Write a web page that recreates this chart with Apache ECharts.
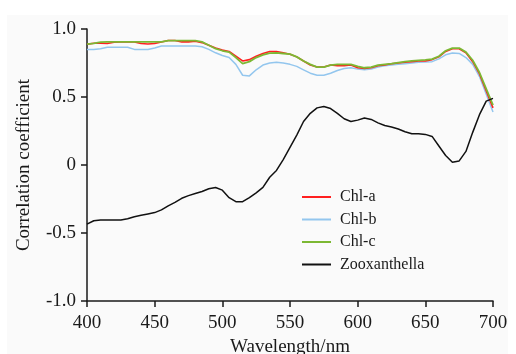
<!DOCTYPE html>
<html>
<head>
<meta charset="utf-8">
<script src="https://cdn.jsdelivr.net/npm/echarts@6/dist/echarts.min.js"></script>
<style>
  html, body { margin: 0; padding: 0; background: #ffffff; }
  #frame { position: absolute; left: 7px; top: 15px; width: 501px; height: 339px; background: #fafafa; }
  #chart { position: absolute; left: 0; top: 0; width: 516px; height: 354px; }
</style>
</head>
<body>
<div id="frame"></div>
<div id="chart"></div>
<script>
// wavelength grid, 5 nm steps from 400 to 700
const wavelengths = [
  400, 405, 410, 415, 420, 425, 430, 435, 440, 445,
  450, 455, 460, 465, 470, 475, 480, 485, 490, 495,
  500, 505, 510, 515, 520, 525, 530, 535, 540, 545,
  550, 555, 560, 565, 570, 575, 580, 585, 590, 595,
  600, 605, 610, 615, 620, 625, 630, 635, 640, 645,
  650, 655, 660, 665, 670, 675, 680, 685, 690, 695,
  700
];

const chlA = [
  0.888, 0.895, 0.895, 0.893, 0.903, 0.905, 0.905, 0.905, 0.893, 0.890,
  0.893, 0.905, 0.915, 0.915, 0.905, 0.905, 0.910, 0.900, 0.880, 0.860,
  0.845, 0.835, 0.800, 0.765, 0.775, 0.800, 0.820, 0.835, 0.835, 0.825,
  0.815, 0.795, 0.765, 0.735, 0.720, 0.720, 0.735, 0.730, 0.730, 0.735,
  0.715, 0.710, 0.715, 0.730, 0.735, 0.745, 0.750, 0.755, 0.760, 0.765,
  0.765, 0.775, 0.795, 0.835, 0.855, 0.855, 0.825, 0.760, 0.670, 0.545,
  0.420
];

const chlB = [
  0.850, 0.850, 0.855, 0.865, 0.866, 0.866, 0.866, 0.850, 0.850, 0.850,
  0.860, 0.875, 0.875, 0.875, 0.875, 0.875, 0.875, 0.870, 0.850, 0.825,
  0.805, 0.790, 0.740, 0.660, 0.655, 0.700, 0.735, 0.750, 0.755, 0.750,
  0.740, 0.725, 0.700, 0.675, 0.660, 0.660, 0.675, 0.695, 0.710, 0.715,
  0.705, 0.700, 0.705, 0.720, 0.730, 0.735, 0.740, 0.745, 0.750, 0.755,
  0.757, 0.760, 0.780, 0.810, 0.823, 0.820, 0.790, 0.740, 0.650, 0.520,
  0.390
];

const chlC = [
  0.888, 0.895, 0.903, 0.905, 0.905, 0.905, 0.905, 0.905, 0.905, 0.905,
  0.905, 0.905, 0.915, 0.915, 0.915, 0.915, 0.915, 0.905, 0.880, 0.855,
  0.840, 0.830, 0.790, 0.745, 0.760, 0.790, 0.810, 0.823, 0.825, 0.820,
  0.815, 0.795, 0.765, 0.740, 0.720, 0.720, 0.735, 0.740, 0.740, 0.740,
  0.725, 0.715, 0.720, 0.735, 0.740, 0.745, 0.753, 0.760, 0.765, 0.770,
  0.773, 0.778, 0.800, 0.840, 0.860, 0.860, 0.830, 0.770, 0.680, 0.560,
  0.440
];

const zooxanthella = [
  -0.435, -0.410, -0.405, -0.405, -0.405, -0.405, -0.395, -0.380, -0.370, -0.360,
  -0.350, -0.330, -0.300, -0.275, -0.245, -0.225, -0.210, -0.195, -0.175, -0.165,
  -0.185, -0.240, -0.270, -0.270, -0.240, -0.205, -0.165, -0.090, -0.040, 0.040,
  0.130, 0.220, 0.320, 0.380, 0.420, 0.430, 0.415, 0.380, 0.340, 0.320,
  0.330, 0.345, 0.335, 0.310, 0.290, 0.280, 0.265, 0.245, 0.230, 0.230,
  0.225, 0.210, 0.140, 0.070, 0.020, 0.030, 0.100, 0.240, 0.370, 0.470,
  0.490
];

const xTicks = [400, 450, 500, 550, 600, 650, 700];
const yTicks = [-1.0, -0.5, 0, 0.5, 1.0];

const serif = "'Liberation Serif', 'Times New Roman', serif";
const ink = "#1a1a1a";

const pairs = (ys) => wavelengths.map((w, i) => [w, ys[i]]);

const chart = echarts.init(document.getElementById("chart"), null, { renderer: "canvas" });

const lineSeries = (name, ys, color, width) => ({
  name,
  type: "line",
  data: pairs(ys),
  showSymbol: false,
  symbol: "none",
  smooth: false,
  lineStyle: { color, width },
  itemStyle: { color },
  animation: false,
});

chart.setOption({
  animation: false,
  backgroundColor: "transparent",
  grid: { left: 87, top: 29, width: 406, height: 272, containLabel: false, outerBoundsMode: "none" },
  legend: {
    orient: "vertical",
    left: 302,
    top: 189,
    padding: 0,
    itemWidth: 29,
    itemHeight: 2,
    itemGap: 6.5,
    icon: "rect",
    data: ["Chl-a", "Chl-b", "Chl-c", "Zooxanthella"],
    textStyle: { fontFamily: serif, fontSize: 16, color: ink, padding: [0, 0, 0, 4] },
  },
  xAxis: {
    type: "value",
    min: xTicks[0],
    max: xTicks[xTicks.length - 1],
    interval: 50,
    name: "Wavelength/nm",
    nameLocation: "middle",
    nameGap: 37,
    nameTextStyle: { fontFamily: serif, fontSize: 19, color: ink },
    axisLine: { show: true, onZero: false, lineStyle: { color: ink, width: 1.5 } },
    axisTick: { show: true, inside: false, length: 6, lineStyle: { color: ink, width: 1.5 } },
    axisLabel: { fontFamily: serif, fontSize: 19, color: ink, margin: 13 },
    splitLine: { show: false },
  },
  yAxis: {
    type: "value",
    min: yTicks[0],
    max: yTicks[yTicks.length - 1],
    interval: 0.5,
    name: "Correlation coefficient",
    nameLocation: "middle",
    nameGap: 53,
    nameTextStyle: { fontFamily: serif, fontSize: 19, color: ink },
    axisLine: { show: true, onZero: false, lineStyle: { color: ink, width: 1.5 } },
    axisTick: { show: true, inside: false, length: 6, lineStyle: { color: ink, width: 1.5 } },
    axisLabel: {
      fontFamily: serif,
      fontSize: 19,
      color: ink,
      margin: 11,
      formatter: (v) => (v === 0 ? "0" : v.toFixed(1)),
    },
    splitLine: { show: false },
  },
  series: [
    lineSeries("Chl-b", chlB, "#93c6ee", 1.5),
    lineSeries("Chl-a", chlA, "#ff1f1f", 1.6),
    lineSeries("Chl-c", chlC, "#7cb833", 1.8),
    lineSeries("Zooxanthella", zooxanthella, "#111111", 1.5),
  ],
});
</script>
</body>
</html>
